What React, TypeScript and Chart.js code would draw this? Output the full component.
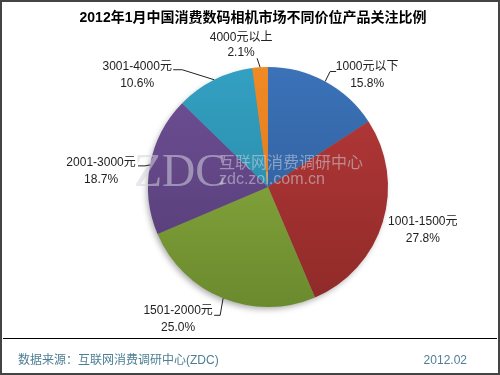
import React, { useEffect, useRef } from "react";
import { Chart, registerables } from "chart.js";

Chart.register(...registerables);

const title = "2012年1月中国消费数码相机市场不同价位产品关注比例";
const categories = ["1000元以下", "1001-1500元", "1501-2000元", "2001-3000元", "3001-4000元", "4000元以上"];
const shares = [15.8, 27.8, 25.0, 18.7, 10.6, 2.1];
const sourceText = "数据来源：互联网消费调研中心(ZDC)";
const dateText = "2012.02";
const watermarkBig = "ZDC";
const watermarkCn = "互联网消费调研中心";
const watermarkUrl = "zdc.zol.com.cn";

const topColors = ["#3b72b8", "#b8393a", "#93b443", "#6f5096", "#33a0c2", "#f08a25"];
const bottomColors = ["#2b5891", "#8e2a28", "#6a8a2e", "#523a72", "#25819e", "#d9731a"];

// label layout: name centre offset from arc anchor, leader elbow points (offsets from anchor), pct line gap
const labelLayout = [
  { dx: 42, dy: -15, gap: 17, leader: [[5, -10], [11, -10]] },
  { dx: 40, dy: 0, gap: 17, leader: [] },
  { dx: -45, dy: 12, gap: 17, leader: [[-3, 17], [-9, 17]] },
  { dx: -49, dy: -2, gap: 17, leader: [[-5, 1], [-12, 1]] },
  { dx: -77, dy: -13, gap: 17, leader: [[-32, -10], [-41, -10]] },
  { dx: -19, dy: -30, gap: 15, leader: [[-3, -9]] },
];

const FONT = '"Liberation Sans", "Noto Sans CJK SC", sans-serif';

const decorPlugin = {
  id: "decor",
  beforeDraw(chart: any) {
    const ctx = chart.ctx;
    const W = chart.width, H = chart.height;
    ctx.save();
    ctx.fillStyle = "#ffffff";
    ctx.fillRect(0, 0, W, H);
    ctx.strokeStyle = "#444444";
    ctx.lineWidth = 2;
    ctx.strokeRect(1, 1, W - 2, H - 2);
    ctx.fillStyle = "#000000";
    ctx.font = 'bold 14px ' + FONT;
    ctx.textAlign = "center";
    ctx.textBaseline = "middle";
    ctx.fillText(title, 253, 18);
    ctx.strokeStyle = "#000000";
    ctx.lineWidth = 1;
    ctx.beginPath();
    ctx.moveTo(3, 338.5);
    ctx.lineTo(W - 3, 338.5);
    ctx.stroke();
    ctx.fillStyle = "#4d7f94";
    ctx.font = '12px ' + FONT;
    ctx.textAlign = "left";
    ctx.fillText(sourceText, 18, 361);
    ctx.textAlign = "right";
    ctx.fillText(dateText, 467, 361);
    ctx.restore();
  },
  beforeDatasetsDraw(chart: any) {
    const meta = chart.getDatasetMeta(0);
    const arc = meta.data[0];
    if (!arc) return;
    const ctx = chart.ctx;
    ctx.save();
    ctx.shadowColor = "rgba(0,0,0,0.35)";
    ctx.shadowBlur = 6;
    ctx.shadowOffsetX = -2;
    ctx.shadowOffsetY = 3;
    ctx.fillStyle = "#888";
    ctx.beginPath();
    ctx.arc(arc.x, arc.y, arc.outerRadius - 1, 0, Math.PI * 2);
    ctx.fill();
    ctx.restore();
  },
  afterDatasetsDraw(chart: any) {
    const meta = chart.getDatasetMeta(0);
    const ctx = chart.ctx;
    const first = meta.data[0];
    if (!first) return;
    const cx = first.x, cy = first.y;
    // watermark
    ctx.save();
    ctx.fillStyle = "rgba(210,210,220,0.55)";
    ctx.textBaseline = "alphabetic";
    ctx.textAlign = "left";
    ctx.font = '46px "Liberation Serif", "DejaVu Serif", serif';
    ctx.fillText(watermarkBig, cx - 134, cy - 1);
    ctx.font = '16px "Noto Sans CJK SC", sans-serif';
    ctx.fillText(watermarkCn, cx - 49, cy - 19);
    ctx.font = '16px "Liberation Sans", sans-serif';
    ctx.fillText(watermarkUrl, cx - 49, cy - 3);
    ctx.restore();

    // labels
    ctx.save();
    ctx.font = '12px ' + FONT;
    ctx.textAlign = "center";
    ctx.textBaseline = "middle";
    ctx.strokeStyle = "#222222";
    ctx.lineWidth = 1;
    meta.data.forEach((el: any, i: number) => {
      const mid = (el.startAngle + el.endAngle) / 2;
      const ax = el.x + Math.cos(mid) * el.outerRadius;
      const ay = el.y + Math.sin(mid) * el.outerRadius;
      const lay = labelLayout[i];
      if (lay.leader.length) {
        ctx.beginPath();
        ctx.moveTo(ax, ay);
        lay.leader.forEach((p: number[]) => ctx.lineTo(ax + p[0], ay + p[1]));
        ctx.stroke();
      }
      const lx = ax + lay.dx, ly = ay + lay.dy;
      ctx.fillStyle = "#222222";
      ctx.fillText(categories[i], lx, ly);
      ctx.fillText(shares[i].toFixed(1) + "%", lx, ly + lay.gap);
    });
    ctx.restore();
  },
};

export default function App() {
  const ref = useRef<HTMLCanvasElement>(null);
  useEffect(() => {
    document.body.style.margin = "0";
    const canvas = ref.current;
    if (!canvas) return;
    const chart = new Chart(canvas, {
      type: "pie",
      data: {
        labels: categories,
        datasets: [
          {
            data: shares,
            borderWidth: 0,
            backgroundColor: (c: any) => {
              const area = c.chart.chartArea;
              const i = c.dataIndex;
              if (!area) return topColors[i];
              const g = c.chart.ctx.createLinearGradient(0, area.top, 0, area.bottom);
              g.addColorStop(0, topColors[i]);
              g.addColorStop(1, bottomColors[i]);
              return g;
            },
          },
        ],
      },
      options: {
        responsive: false,
        animation: false,
        devicePixelRatio: 1,
        layout: { padding: { left: 148, right: 112, top: 67, bottom: 68 } },
        plugins: {
          legend: { display: false },
          tooltip: { enabled: false },
          title: { display: false },
        },
      },
      plugins: [decorPlugin],
    } as any);
    return () => chart.destroy();
  }, []);
  return (
    <div style={{ width: 500, height: 375 }}>
      <canvas ref={ref} width={500} height={375} />
    </div>
  );
}
